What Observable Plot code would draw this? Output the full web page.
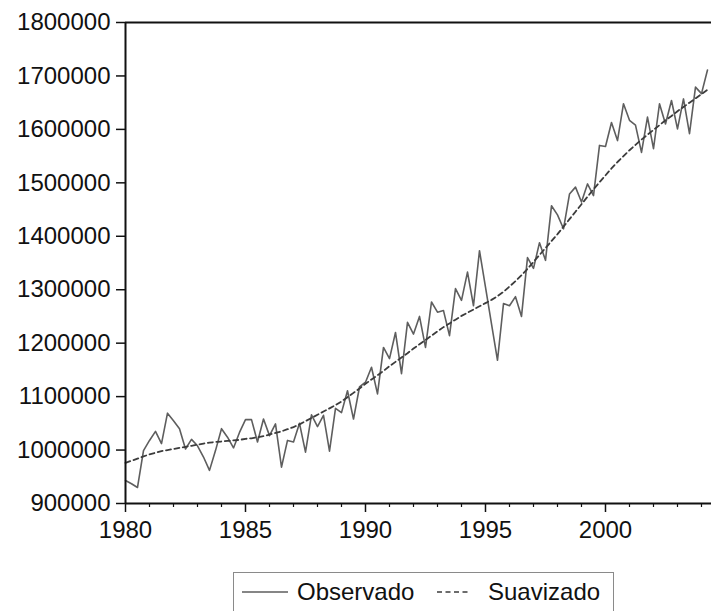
<!DOCTYPE html>
<html>
<head>
<meta charset="utf-8">
<script src="https://cdn.jsdelivr.net/npm/d3@7"></script>
<script src="https://cdn.jsdelivr.net/npm/@observablehq/plot@0.6"></script>
<style>
  html, body { margin: 0; padding: 0; background: #fff; overflow: hidden; }
  body { font-family: "Liberation Sans", Arial, sans-serif; color: #111; }
  #wrap { position: relative; width: 711px; height: 611px; overflow: hidden; }
  #legend { position: absolute; left: 233px; top: 572px; width: 381px; height: 60px;
            border: 1.5px solid #8a8a8a; box-sizing: border-box; background: #fff; }
  #legend .item { position: absolute; top: 5px; font-size: 24px; line-height: 28px; white-space: nowrap; }
  #legend svg { position: absolute; }
</style>
</head>
<body>
<div id="wrap">
  <div id="chart"></div>
  <div id="legend"></div>
</div>
<script>
// Quarterly series, first value = 1980 Q1
const startYear = 1980;
const observado = [
  943000, 937000, 930000, 999000, 1018000, 1035000, 1012000, 1069000,
  1055000, 1040000, 1002000, 1020000, 1008000, 987000, 962000, 999000,
  1040000, 1024000, 1004000, 1033000, 1057000, 1057000, 1015000, 1058000,
  1027000, 1049000, 968000, 1018000, 1015000, 1050000, 996000, 1066000,
  1044000, 1065000, 998000, 1078000, 1070000, 1111000, 1058000, 1118000,
  1127000, 1155000, 1105000, 1192000, 1171000, 1220000, 1143000, 1239000,
  1217000, 1250000, 1192000, 1277000, 1258000, 1261000, 1214000, 1302000,
  1280000, 1333000, 1270000, 1373000, 1305000, 1236000, 1168000, 1274000,
  1270000, 1287000, 1250000, 1360000, 1340000, 1388000, 1355000, 1457000,
  1440000, 1414000, 1479000, 1492000, 1464000, 1498000, 1476000, 1570000,
  1568000, 1613000, 1579000, 1648000, 1617000, 1608000, 1557000, 1623000,
  1564000, 1648000, 1610000, 1654000, 1601000, 1657000, 1592000, 1679000,
  1667000, 1711000
];
const suavizado = [
  976000, 980000, 984000, 988000, 992000, 995000, 998000, 1000000,
  1002000, 1004000, 1006000, 1008000, 1010000, 1012000, 1014000, 1015000,
  1016000, 1017000, 1018000, 1019000, 1021000, 1022000, 1024000, 1026000,
  1029000, 1032000, 1035000, 1039000, 1043000, 1048000, 1054000, 1060000,
  1066000, 1072000, 1078000, 1084000, 1091000, 1099000, 1107000, 1115000,
  1124000, 1132000, 1140000, 1148000, 1157000, 1165000, 1173000, 1181000,
  1190000, 1198000, 1206000, 1214000, 1222000, 1230000, 1237000, 1244000,
  1251000, 1257000, 1263000, 1269000, 1275000, 1281000, 1288000, 1296000,
  1306000, 1316000, 1327000, 1339000, 1352000, 1365000, 1378000, 1391000,
  1404000, 1418000, 1432000, 1446000, 1460000, 1474000, 1488000, 1501000,
  1514000, 1527000, 1539000, 1550000, 1561000, 1571000, 1581000, 1590000,
  1599000, 1608000, 1617000, 1625000, 1634000, 1642000, 1650000, 1658000,
  1666000, 1674000
];
const majorYears = [1980, 1985, 1990, 1995, 2000];
const minorYears = [1981, 1982, 1983, 1984, 1986, 1987, 1988, 1989, 1991, 1992, 1993, 1994,
                    1996, 1997, 1998, 1999, 2001, 2002, 2003, 2004];
const yTicks = [900000, 1000000, 1100000, 1200000, 1300000, 1400000, 1500000, 1600000, 1700000, 1800000];
const seriesNames = ["Observado", "Suavizado"];

const data = observado.map((v, i) => ({ t: startYear + i / 4, obs: v, suav: suavizado[i] }));

const chart = Plot.plot({
  width: 711,
  height: 565,
  marginLeft: 125,
  marginRight: 0,
  marginTop: 22,
  marginBottom: 62,
  style: { fontSize: "24px", fontFamily: "'Liberation Sans', Arial, sans-serif", color: "#111", background: "#fff" },
  x: { domain: [1980, 2004.417], axis: null },
  y: { domain: [900000, 1800000], axis: null },
  marks: [
    Plot.axisY(yTicks, { tickSize: 9, tickPadding: 6, tickFormat: d3.format("d"), strokeWidth: 1.5, label: null }),
    Plot.axisX(majorYears, { tickSize: 9, tickPadding: 8, tickFormat: d3.format("d"), strokeWidth: 1.5, label: null }),
    Plot.axisX(minorYears, { tickSize: 4, tickFormat: () => "", strokeWidth: 1.2, label: null }),
    Plot.line(data, { x: "t", y: "obs", stroke: "#5e5e5e", strokeWidth: 1.6 }),
    Plot.line(data, { x: "t", y: "suav", stroke: "#3c3c3c", strokeWidth: 1.8, strokeDasharray: "5,3.5" }),
    Plot.ruleY([900000, 1800000], { stroke: "#111", strokeWidth: 2 }),
    Plot.ruleX([1980], { stroke: "#111", strokeWidth: 2 })
  ]
});
document.getElementById("chart").appendChild(chart);

// legend
const legend = document.getElementById("legend");
legend.innerHTML = `
  <svg style="left:8px;top:16px" width="48" height="6"><line x1="0" y1="3" x2="46" y2="3" stroke="#5e5e5e" stroke-width="1.6"/></svg>
  <div class="item" style="left:63px">${seriesNames[0]}</div>
  <svg style="left:203px;top:16px" width="36" height="6"><line x1="0" y1="3" x2="34" y2="3" stroke="#3c3c3c" stroke-width="1.6" stroke-dasharray="5,3.5"/></svg>
  <div class="item" style="left:254px">${seriesNames[1]}</div>
`;
</script>
</body>
</html>
